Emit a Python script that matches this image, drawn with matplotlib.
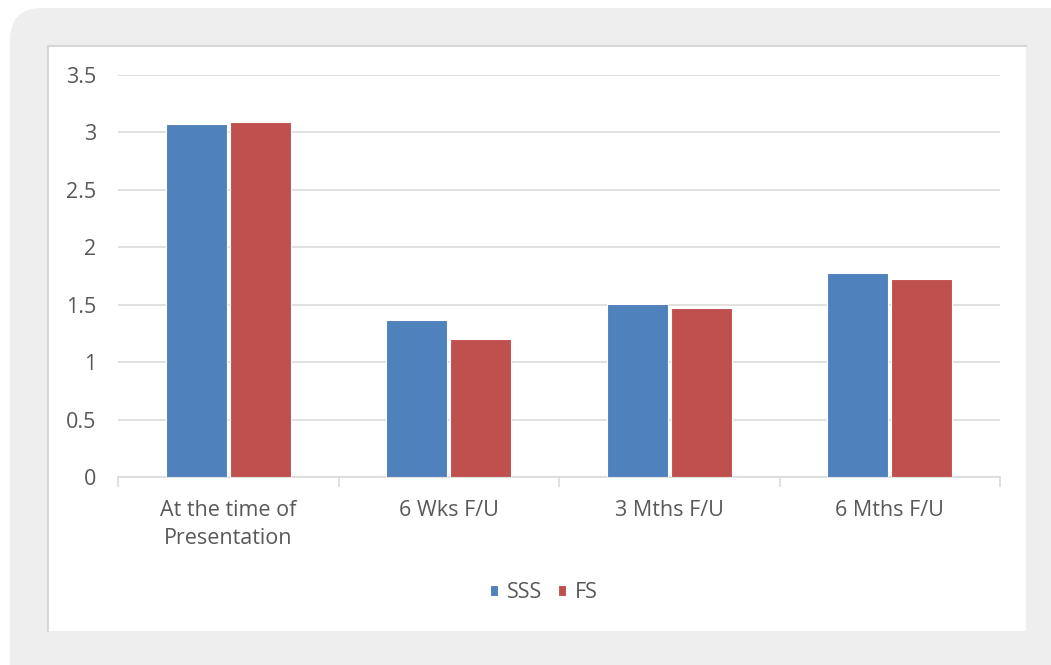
import numpy as np
import matplotlib
matplotlib.use("Agg")
import matplotlib.pyplot as plt
from matplotlib.patches import FancyBboxPatch, Rectangle
from matplotlib.lines import Line2D

# Data
categories = ["At the time of\nPresentation", "6 Wks F/U", "3 Mths F/U", "6 Mths F/U"]
sss = [3.07, 1.37, 1.51, 1.78]
fs = [3.09, 1.20, 1.47, 1.72]
series_names = ["SSS", "FS"]
y_ticks = [0, 0.5, 1, 1.5, 2, 2.5, 3, 3.5]
y_tick_labels = ["0", "0.5", "1", "1.5", "2", "2.5", "3", "3.5"]

W_PX, H_PX = 1051, 665
DPI = 100

BLUE = "#4f81bd"
RED = "#c0504d"
GRID = "#d9d9d9"
TEXT = "#595959"
FS_TXT = 15.5

plt.rcParams["font.family"] = ["Open Sans", "DejaVu Sans"]

fig = plt.figure(figsize=(W_PX / DPI, H_PX / DPI), dpi=DPI)
fig.patch.set_facecolor("white")


def px_box(x0, y0, x1, y1):
    """Convert pixel box (top-left origin) to figure fraction."""
    return x0 / W_PX, 1 - y1 / H_PX, (x1 - x0) / W_PX, (y1 - y0) / H_PX


# Outer rounded grey card (pixel coordinates, bottom-left origin)
card = FancyBboxPatch((10, -40), 1100, H_PX - 8 + 40,
                      boxstyle="round,pad=0,rounding_size=32",
                      transform=None, facecolor="#eeeeee", edgecolor="none", zorder=-3)
fig.patches.append(card)

# Inner white chart panel
ix, iy, iw, ih = px_box(48, 46, 1026, 631)
panel = Rectangle((ix, iy), iw, ih, transform=fig.transFigure,
                  facecolor="white", edgecolor="none", zorder=-2)
fig.patches.append(panel)
for xs, ys in [((ix, ix), (iy, iy + ih)), ((ix, ix + iw), (iy + ih, iy + ih))]:
    fig.lines.append(Line2D(xs, ys, transform=fig.transFigure,
                            color="#d6d6d6", linewidth=1.5, zorder=-1))

# Plot area
ax = fig.add_axes(px_box(118, 75, 1000, 477))
ax.set_facecolor("none")

x = np.arange(len(categories))
width = 0.277
ax.bar(x - width / 2 - 0.007, sss, width, color=BLUE, edgecolor="white",
       linewidth=0.8, label=series_names[0], zorder=3)
ax.bar(x + width / 2 + 0.007, fs, width, color=RED, edgecolor="white",
       linewidth=0.8, label=series_names[1], zorder=3)

ax.set_xlim(-0.5, len(categories) - 0.5)
ax.set_ylim(0, 3.5)
ax.set_yticks(y_ticks)
ax.set_yticklabels(y_tick_labels)
ax.yaxis.grid(True, color=GRID, linewidth=1.1, zorder=0)
ax.set_axisbelow(True)

for side in ["top", "right", "left"]:
    ax.spines[side].set_visible(False)
ax.spines["bottom"].set_color(GRID)
ax.spines["bottom"].set_linewidth(1.1)

ax.tick_params(axis="y", length=0, pad=15.5, labelsize=FS_TXT, labelcolor=TEXT)
ax.set_xticks(x)
ax.set_xticklabels(categories, fontsize=FS_TXT, color=TEXT, linespacing=1.45)
ax.tick_params(axis="x", length=0, pad=16.5)

# Category boundary tick marks below the axis
ax.set_xticks(np.arange(-0.5, len(categories)), minor=True)
ax.tick_params(axis="x", which="minor", length=7, color=GRID, width=1.1, direction="out")

leg = fig.legend(loc="center", bbox_to_anchor=(544 / W_PX, 1 - 593 / H_PX),
                 ncol=2, frameon=False, fontsize=FS_TXT, handlelength=0.38,
                 handleheight=0.38, handletextpad=0.4, columnspacing=0.75)
for t in leg.get_texts():
    t.set_color(TEXT)

fig.savefig("out.png", dpi=DPI)
